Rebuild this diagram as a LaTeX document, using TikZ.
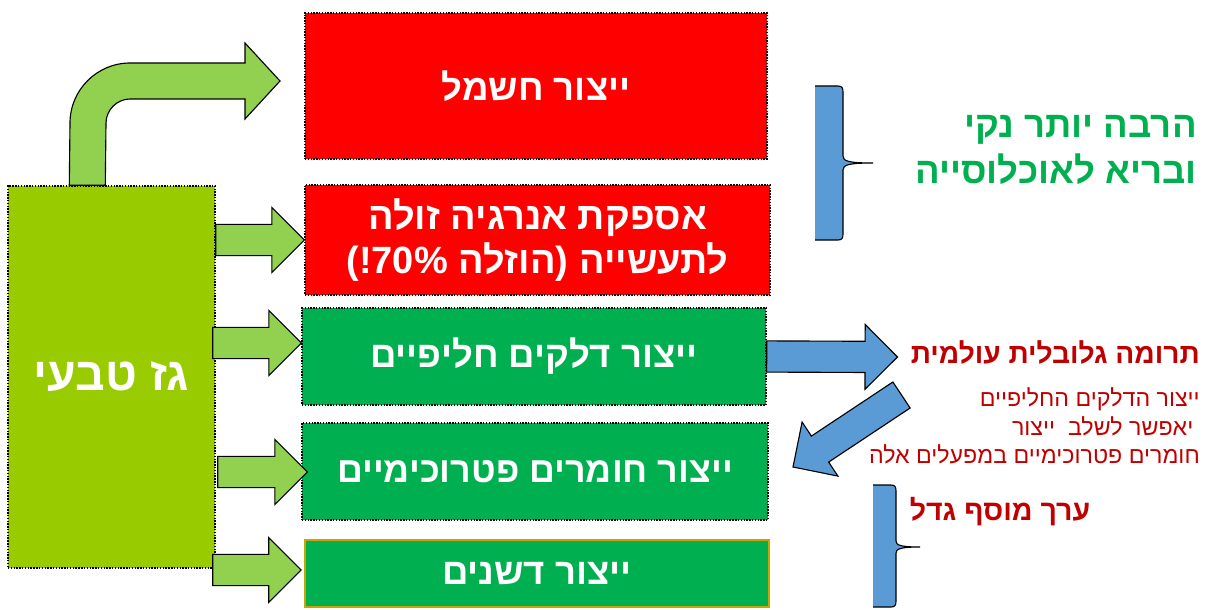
\documentclass[tikz,border=0pt]{standalone}
\usepackage{fontspec}
\usetikzlibrary{calc,positioning}
\newfontfamily\heb[Script=Hebrew]{Liberation Sans}
\TeXXeTstate=1
\definecolor{cgas}{HTML}{99CC00}
\definecolor{carrow}{HTML}{92D050}
\definecolor{cred}{HTML}{FF0000}
\definecolor{cgreen}{HTML}{00B050}
\definecolor{cblue}{HTML}{5B9BD5}
\definecolor{cdark}{HTML}{C00000}
\definecolor{cgold}{HTML}{C9A500}
\newcommand\rl[1]{\beginR #1\endR}
% block arrow from tail #2 to tip #3 (named coordinates)
\newcommand\blockarrow[3][garrow]{%
 \coordinate (ba-n) at ($#3!0.81cm!#2$);
 \path[#1] ($#2!0.39cm!90:#3$) -- ($(ba-n)!0.39cm!-90:#2$) -- ($(ba-n)!0.81cm!-90:#2$)
 -- #3 -- ($(ba-n)!0.81cm!90:#2$) -- ($(ba-n)!0.39cm!90:#2$) -- ($#2!0.39cm!-90:#3$) -- cycle;}
\tikzset{
 wh/.style 2 args={minimum width=#1*0.025cm, minimum height=#2*0.025cm},
 box/.style={rectangle, draw=black, densely dotted, line width=1pt, inner sep=0pt,
 align=center, text=white, font=\heb\bfseries\fontsize{26}{31}\selectfont},
 redbox/.style={box, fill=cred},
 grnbox/.style={box, fill=cgreen},
 garrow/.style={fill=carrow, draw=black, line width=0.8pt, line join=miter},
 barrow/.style={fill=cblue, draw=black, line width=0.8pt, line join=miter},
 brace/.style={draw=black, line width=0.8pt},
 note/.style={inner sep=0pt, align=right, text=cdark},
}
\begin{document}
\begin{tikzpicture}[x=0.025cm, y=-0.025cm]
 \useasboundingbox (0,0) rectangle (1208,610);
 % source
 \node[box, fill=cgas, wh={207}{382}, font=\heb\bfseries\fontsize{33}{38}\selectfont] (gas) at (111.5,377) {\rl{גז טבעי}};
 % products
 \node[redbox, wh={462}{146}] (elec) at (536,86) {\rl{ייצור חשמל}};
 \node[redbox, wh={465}{110}, font=\heb\bfseries\fontsize{27}{31}\selectfont] (supply) at (537.5,240)
 {\rl{אספקת אנרגיה זולה}\\\rl{לתעשייה (הוזלה 70\%!)}};
 \node[grnbox, wh={464}{97}] (fuels) at (534,356.5) {\rl{ייצור דלקים חליפיים}};
 \node[grnbox, wh={466}{97}, font=\heb\bfseries\fontsize{25.5}{31}\selectfont] (petro) at (535,471.5) {\rl{ייצור חומרים פטרוכימיים}};
 \node[grnbox, wh={464}{67}, draw=cgold, solid, line width=1.2pt] (fert) at (537,573.5) {\rl{ייצור דשנים}};
 % texts on the right
 \node[note, anchor=east, text=cgreen, font=\heb\bfseries\fontsize{26}{33}\selectfont] (clean) at (1197,150)
 {\rl{הרבה יותר נקי}\\\rl{ובריא לאוכלוסייה}};
 \node[note, anchor=east, font=\heb\bfseries\fontsize{20}{24}\selectfont] (global) at (1200,352) {\rl{תרומה גלובלית עולמית}};
 \node[note, anchor=east, font=\heb\fontsize{16.5}{20.3}\selectfont] (combine) at (1200,426)
 {\rl{ייצור הדלקים החליפיים}\\\rl{\ יאפשר לשלב\ \ ייצור}\\\rl{חומרים פטרוכימיים במפעלים אלה}};
 \node[note, font=\heb\bfseries\fontsize{20.3}{24}\selectfont] (addval) at (1000,512) {\rl{ערך מוסף גדל}};

 % curved arrow to electricity
 \path[garrow] ($(gas.north west)+(62,0)$) -- (70,123) .. controls (70,90) and (97,63) .. (130,63)
 -- (245,63) -- (245,43) -- (280,81) -- (245,119) -- (245,99) -- (130,99)
 .. controls (117,99) and (106,110) .. (106,123) -- ($(gas.north west)+(98,0)$) -- cycle;
 % straight arrows
 \coordinate (a1) at (gas.east |- supply.west);
 \coordinate (b1) at (supply.west);
 \coordinate (a2) at ($(gas.east)+(-3,-34)$);
 \coordinate (b2) at ($(fuels.west)+(0,-13.5)$);
 \coordinate (a3) at ($(gas.east)+(2,95)$);
 \coordinate (b3) at ($(petro.west)+(6,0.5)$);
 \coordinate (a4) at ($(gas.east)+(-3,193)$);
 \coordinate (b4) at ($(fert.west)+(-3,-3.5)$);
 \blockarrow{(a1)}{(b1)}
 \blockarrow{(a2)}{(b2)}
 \blockarrow{(a3)}{(b3)}
 \blockarrow{(a4)}{(b4)}
 % blue arrows
 \coordinate (c1) at (fuels.east);
 \coordinate (d1) at ($(global.west)+(-13,5)$);
 \blockarrow[barrow]{(c1)}{(d1)}
 \coordinate (c2) at (901.5,395);
 \coordinate (d2) at (793,467);
 \blockarrow[barrow]{(c2)}{(d2)}

 % braces
 \fill[cblue] (815,86) -- (838,86) .. controls (842,86) and (843,88) .. (843,92) -- (843,156)
 .. controls (843,161) and (848,163) .. (873,163) .. controls (848,163) and (843,165) .. (843,170)
 -- (843,234) .. controls (843,238) and (842,240) .. (838,240) -- (815,240) -- cycle;
 \draw[brace] (815,86) -- (838,86) .. controls (842,86) and (843,88) .. (843,92) -- (843,156)
 .. controls (843,161) and (848,163) .. (873,163) .. controls (848,163) and (843,165) .. (843,170)
 -- (843,234) .. controls (843,238) and (842,240) .. (838,240) -- (815,240);
 \fill[cblue] (873,485) -- (891,485) .. controls (895,485) and (896,487) .. (896,491) -- (896,541)
 .. controls (896,545) and (900,547) .. (920,547) .. controls (900,547) and (896,549) .. (896,553)
 -- (896,601) .. controls (896,605) and (895,607) .. (891,607) -- (873,607) -- cycle;
 \draw[brace] (873,485) -- (891,485) .. controls (895,485) and (896,487) .. (896,491) -- (896,541)
 .. controls (896,545) and (900,547) .. (920,547) .. controls (900,547) and (896,549) .. (896,553)
 -- (896,601) .. controls (896,605) and (895,607) .. (891,607) -- (873,607);
\end{tikzpicture}
\end{document}
